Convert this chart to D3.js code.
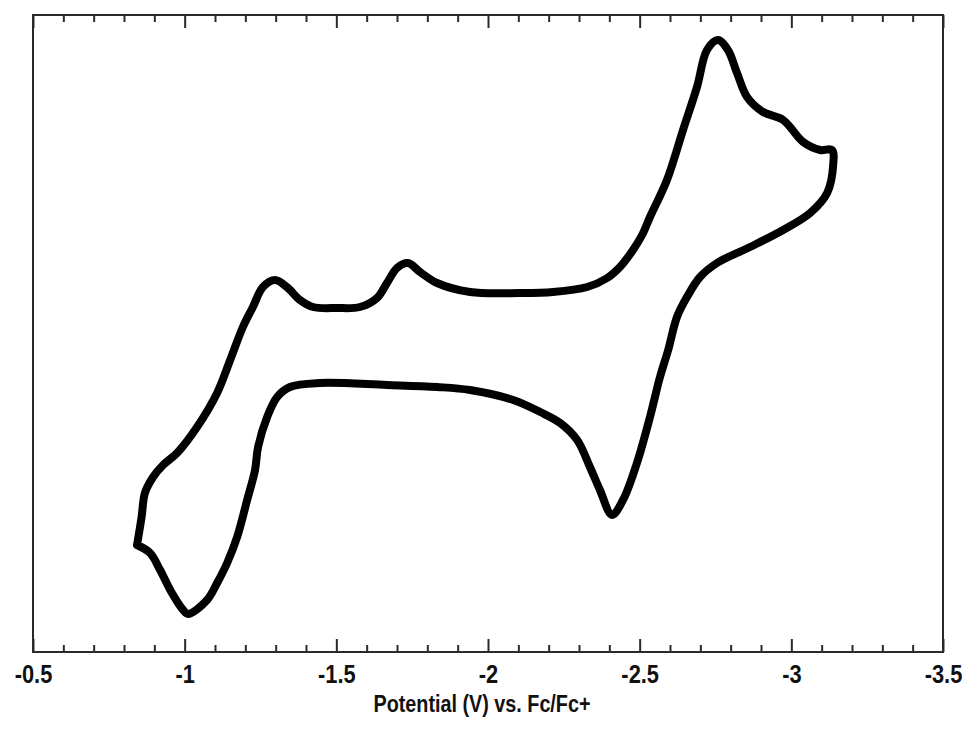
<!DOCTYPE html>
<html>
<head>
<meta charset="utf-8">
<script src="https://cdn.jsdelivr.net/npm/d3@7"></script>
<style>
  body { margin: 0; background: #fff; }
  text { font-family: "Liberation Sans", Arial, sans-serif; }
</style>
</head>
<body>
<div id="graph"></div>
<script>
const WIDTH = 965, HEIGHT = 729;
const margin = {top: 15, right: 22, bottom: 77, left: 33};
const plot_w = WIDTH - margin.left - margin.right;
const plot_h = HEIGHT - margin.top - margin.bottom;

// forward sweep (towards negative potential), from the left turn-around
const fwdPotential = [-0.843, -0.858, -0.869, -0.896, -0.929, -0.975, -1.041, -1.107, -1.150, -1.192,
    -1.225, -1.258, -1.298, -1.337, -1.380, -1.423, -1.502, -1.578, -1.634, -1.667, -1.700, -1.736,
    -1.776, -1.832, -1.941, -2.106, -2.214, -2.327, -2.393, -2.435, -2.478, -2.508, -2.534, -2.590,
    -2.643, -2.689, -2.722, -2.758, -2.791, -2.821, -2.854, -2.907, -2.973, -3.039, -3.095, -3.134];
const fwdCurrent = [-5.72, -4.60, -3.64, -3.00, -2.52, -2.04, -1.00, 0.36, 1.68, 3.00,
    3.80, 4.60, 4.88, 4.60, 4.08, 3.80, 3.76, 3.80, 4.16, 4.76, 5.36, 5.56,
    5.20, 4.76, 4.40, 4.36, 4.40, 4.60, 4.96, 5.40, 6.08, 6.68, 7.40, 8.88,
    10.88, 12.60, 14.08, 14.48, 14.08, 13.16, 12.20, 11.60, 11.28, 10.40, 10.08, 10.08];

// reverse sweep, from the right turn-around back to the start
const revPotential = [-3.138, -3.118, -3.062, -2.973, -2.864, -2.755, -2.699, -2.656, -2.623, -2.594,
    -2.567, -2.534, -2.491, -2.445, -2.409, -2.369, -2.336, -2.294, -2.238, -2.172, -2.083, -1.941,
    -1.832, -1.667, -1.446, -1.347, -1.305, -1.272, -1.242, -1.232, -1.206, -1.173, -1.140, -1.107,
    -1.074, -1.011, -0.995, -0.958, -0.919, -0.886, -0.843];
const revCurrent = [9.48, 8.36, 7.56, 6.88, 6.20, 5.56, 5.00, 4.20, 3.40, 2.08,
    1.00, -0.60, -2.44, -3.92, -4.52, -3.52, -2.60, -1.52, -0.84, -0.40, 0.08, 0.48,
    0.60, 0.68, 0.76, 0.60, 0.20, -0.60, -1.80, -2.72, -3.92, -5.40, -6.44, -7.24,
    -7.92, -8.48, -8.32, -7.64, -6.72, -6.04, -5.72];

const majorTicks = [-0.5, -1, -1.5, -2, -2.5, -3, -3.5];
const minorTicks = d3.range(-0.6, -3.45, -0.1).filter(v => Math.abs(v * 2 - Math.round(v * 2)) > 0.01);
const xLabel = "Potential (V) vs. Fc/Fc+";

const AXIS_COLOR = '#2a2a2a';
const LINE_COLOR = '#000000';

let svg = d3.select("#graph")
    .append("svg")
    .attr("width", WIDTH)
    .attr("height", HEIGHT)
    .append("g")
    .attr("transform", `translate(${margin.left}, ${margin.top})`);

let x = d3.scaleLinear()
    .domain([-0.5, -3.5])
    .range([0, plot_w]);
let y = d3.scaleLinear()
    .domain([-10, 15.48])
    .range([plot_h, 0]);

// bottom axis: major + minor ticks pointing inwards
let bottom = svg.append("g")
    .attr("transform", `translate(0, ${plot_h})`)
    .call(d3.axisBottom(x).tickValues(majorTicks).tickSize(-13).tickPadding(13)
        .tickFormat(d => String(d)));
svg.append("g")
    .attr("transform", `translate(0, ${plot_h})`)
    .call(d3.axisBottom(x).tickValues(minorTicks).tickSize(-7).tickFormat(""));
svg.append("g")
    .call(d3.axisTop(x).tickValues(majorTicks).tickSize(-13).tickFormat(""));
svg.append("g")
    .call(d3.axisTop(x).tickValues(minorTicks).tickSize(-7).tickFormat(""));

svg.selectAll(".domain").remove();
svg.selectAll(".tick line")
    .attr("stroke", AXIS_COLOR)
    .attr("stroke-width", 2);
// condensed look of the original labels
bottom.selectAll("text")
    .style("font-size", "26px")
    .style("font-weight", "bold")
    .attr("transform", "scale(0.84, 1)")
    .attr("fill", "#111");

// frame
svg.append("rect")
    .attr("x", 0)
    .attr("y", 0)
    .attr("width", plot_w)
    .attr("height", plot_h)
    .attr("fill", "none")
    .attr("stroke", AXIS_COLOR)
    .attr("stroke-width", 2);

// voltammogram
let fwd = fwdPotential.map((v, i) => ({v: v, c: fwdCurrent[i]}));
let rev = revPotential.map((v, i) => ({v: v, c: revCurrent[i]}));
let line = d3.line()
    .x(d => x(d.v))
    .y(d => y(d.c))
    .curve(d3.curveCatmullRom.alpha(0.5));
svg.append("path")
    .datum(fwd.concat(rev))
    .attr("d", line)
    .attr("fill", "none")
    .attr("stroke", LINE_COLOR)
    .attr("stroke-width", 8)
    .attr("stroke-linejoin", "round")
    .attr("stroke-linecap", "round");

svg.append("text")
    .attr("transform", `translate(${482 - margin.left}, ${712 - margin.top}) scale(0.86, 1)`)
    .style("text-anchor", "middle")
    .style("font-size", "23px")
    .style("font-weight", "bold")
    .attr("fill", "#111")
    .text(xLabel);
</script>
</body>
</html>
